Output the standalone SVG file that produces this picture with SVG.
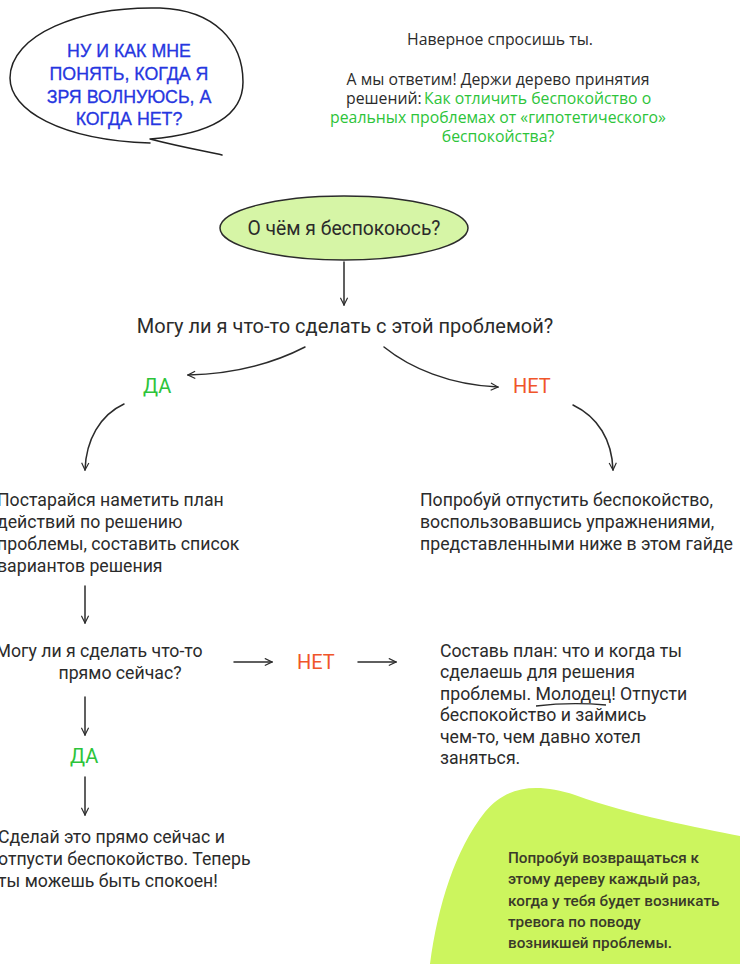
<svg xmlns="http://www.w3.org/2000/svg" width="740" height="964" viewBox="0 0 740 964">
<defs>
<style>
.t{font-family:Roboto,"Liberation Sans",sans-serif;font-size:17.7px;fill:#2b2b2b}
.tl{font-size:20px}
.ts{font-family:"Open Sans","Liberation Sans",sans-serif;font-size:15.8px;fill:#2b2b2b}
.tb{font-family:Roboto,"Liberation Sans",sans-serif;font-size:15.3px;fill:#3a3a2a;font-weight:500}
.bub{font-family:"Liberation Sans",Arial,sans-serif;font-size:17.8px;fill:#2636e0;stroke:#2636e0;stroke-width:0.3}
.g{fill:#2dc43a}
.o{fill:#f0552a}
.ln{fill:none;stroke:#2b2b2b;stroke-width:1.5;stroke-linecap:round}
</style>
<marker id="ah" viewBox="0 0 10 10" refX="9" refY="5" markerWidth="9" markerHeight="9" orient="auto" markerUnits="userSpaceOnUse">
<path d="M1,1 L9,5 L1,9" fill="none" stroke="#2b2b2b" stroke-width="1.3"/>
</marker>
</defs>
<rect width="740" height="964" fill="#ffffff"/>

<g id="speech-bubble">
<path d="M150,143 C60,140 10,110 10,78 C10,35 80,6 160,8 C215,10 243,42 243,82 C243,115 212,134 150,139 M150,139 C185,148 210,152 222,155" fill="none" stroke="#222" stroke-width="1.5" stroke-linecap="round"/>
<text class="bub" text-anchor="middle"><tspan x="129" y="57">НУ И КАК МНЕ</tspan><tspan x="129" y="80">ПОНЯТЬ, КОГДА Я</tspan><tspan x="129" y="103">ЗРЯ ВОЛНУЮСЬ, А</tspan><tspan x="129" y="125">КОГДА НЕТ?</tspan></text>
</g>

<g id="intro">
<text class="ts" x="500" y="45" text-anchor="middle">Наверное спросишь ты.</text>
<text class="ts" x="498" y="85" text-anchor="middle">А мы ответим! Держи дерево принятия</text>
<text class="ts" x="346" y="104">решений:</text>
<text class="ts g" x="424" y="104">Как отличить беспокойство о</text>
<text class="ts g" x="498" y="123" text-anchor="middle">реальных проблемах от «гипотетического»</text>
<text class="ts g" x="498" y="142" text-anchor="middle">беспокойства?</text>
</g>

<g id="start">
<ellipse cx="344" cy="228" rx="124" ry="32" fill="#d6f5a6" stroke="#2b2b2b" stroke-width="1.5"/>
<text class="t" x="344" y="235" text-anchor="middle" style="font-size:19.3px">О чём я беспокоюсь?</text>
</g>

<g id="q1"><text class="t tl" x="345" y="333" text-anchor="middle">Могу ли я что-то сделать с этой проблемой?</text></g>
<g id="yes1"><text class="t tl g" x="143" y="393">ДА</text></g>
<g id="no1"><text class="t tl o" x="513" y="393">НЕТ</text></g>

<g id="plan">
<text class="t"><tspan x="-3" y="506">Постарайся наметить план</tspan><tspan x="-3" y="528">действий по решению</tspan><tspan x="-3" y="550">проблемы, составить список</tspan><tspan x="-3" y="572">вариантов решения</tspan></text>
</g>
<g id="letgo">
<text class="t"><tspan x="420" y="506">Попробуй отпустить беспокойство,</tspan><tspan x="420" y="528">воспользовавшись упражнениями,</tspan><tspan x="420" y="550">представленными ниже в этом гайде</tspan></text>
</g>

<g id="q2">
<text class="t" text-anchor="middle"><tspan x="99" y="657">Могу ли я сделать что-то</tspan><tspan x="120" y="679">прямо сейчас?</tspan></text>
</g>
<g id="no2"><text class="t tl o" x="297" y="669">НЕТ</text></g>
<g id="schedule">
<text class="t"><tspan x="440" y="657">Составь план: что и когда ты</tspan><tspan x="440" y="678">сделаешь для решения</tspan><tspan x="440" y="700">проблемы. Молодец! Отпусти</tspan><tspan x="440" y="721">беспокойство и займись</tspan><tspan x="440" y="743">чем-то, чем давно хотел</tspan><tspan x="440" y="764">заняться.</tspan></text>
<path d="M536,706 C560,703 585,703 606,705" fill="none" stroke="#2b2b2b" stroke-width="1.3"/>
</g>
<g id="yes2"><text class="t tl g" x="70" y="763">ДА</text></g>
<g id="donow">
<text class="t"><tspan x="-2" y="843">Сделай это прямо сейчас и</tspan><tspan x="-2" y="865">отпусти беспокойство. Теперь</tspan><tspan x="-2" y="887">ты можешь быть спокоен!</tspan></text>
</g>

<g id="note">
<path d="M430,964 C438,905 455,850 485,812 C505,787 535,782 575,795 C630,815 700,828 740,836 L740,964 Z" fill="#ccf55e"/>
<text class="tb"><tspan x="508" y="863">Попробуй возвращаться к</tspan><tspan x="508" y="884">этому дереву каждый раз,</tspan><tspan x="508" y="906">когда у тебя будет возникать</tspan><tspan x="508" y="927">тревога по поводу</tspan><tspan x="508" y="948">возникшей проблемы.</tspan></text>
</g>

<g id="connectors">
<path class="ln" d="M344,262 L344,305" marker-end="url(#ah)"/>
<path class="ln" d="M305,347 C270,365 230,374 188,375" marker-end="url(#ah)"/>
<path class="ln" d="M384,347 C410,368 450,385 498,387" marker-end="url(#ah)"/>
<path class="ln" d="M124,404 C100,415 86,440 85,470" marker-end="url(#ah)"/>
<path class="ln" d="M573,405 C598,417 612,440 613,470" marker-end="url(#ah)"/>
<path class="ln" d="M85,586 L85,623" marker-end="url(#ah)"/>
<path class="ln" d="M234,662 L272,662" marker-end="url(#ah)"/>
<path class="ln" d="M358,662 L396,662" marker-end="url(#ah)"/>
<path class="ln" d="M85,697 L85,735" marker-end="url(#ah)"/>
<path class="ln" d="M85,777 L85,815" marker-end="url(#ah)"/>
</g>
</svg>
